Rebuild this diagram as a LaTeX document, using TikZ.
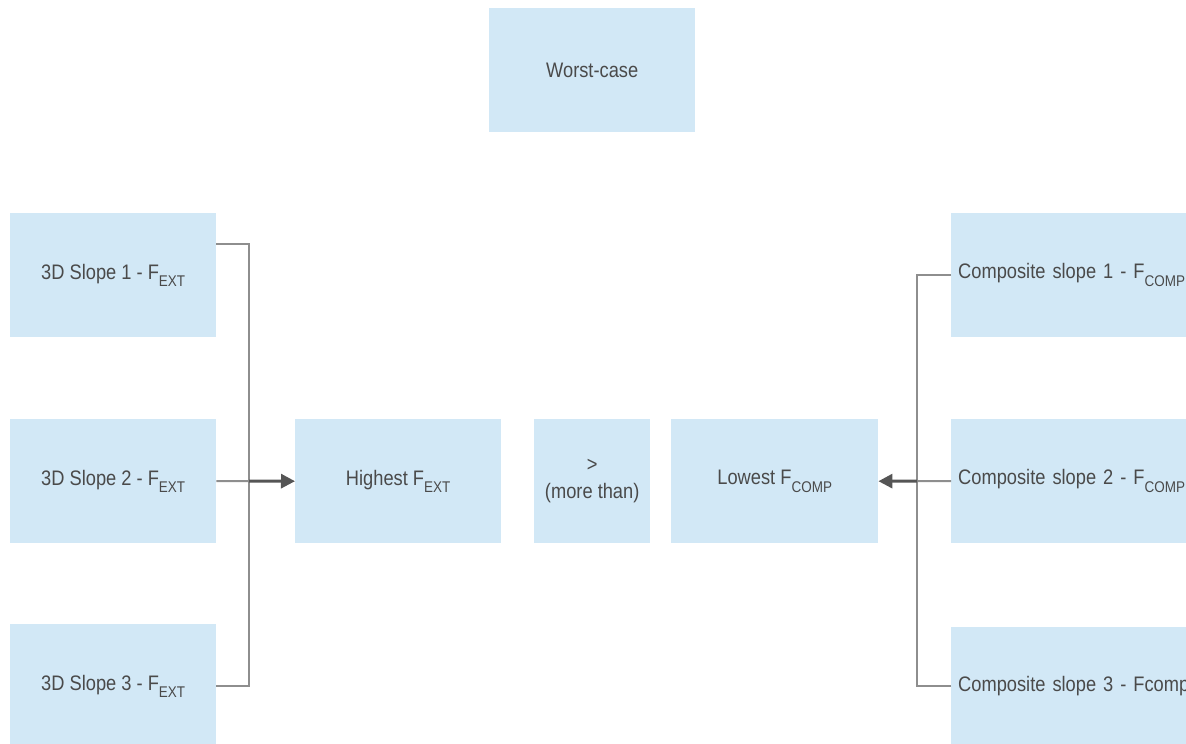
\documentclass[tikz,border=0pt]{standalone}
\usepackage{fontspec}
\setmainfont[FakeStretch=0.87]{Liberation Sans}
\usetikzlibrary{arrows.meta}
\definecolor{boxfill}{HTML}{D2E8F6}
\definecolor{txt}{HTML}{4A4A4A}
\definecolor{lin}{HTML}{8E8E8E}
\definecolor{arr}{HTML}{555555}
\newcommand{\lowsub}[1]{\raisebox{-0.36em}{\fontsize{15.5}{16}\selectfont #1}}
\tikzset{
  box/.style={fill=boxfill, draw=none, inner sep=0pt, minimum width=206pt, minimum height=124pt,
    anchor=north west, text=txt, font=\fontsize{21}{27}\selectfont, align=center},
  compbox/.style={box, minimum width=280pt, text width=266pt, align=left, inner xsep=7pt},
  conn/.style={draw=lin, line width=2pt},
  arrowline/.style={draw=arr, line width=3pt, -{Triangle[length=14pt,width=14pt]}}
}
\begin{document}
\begin{tikzpicture}[x=1pt,y=-1pt]
\useasboundingbox (0,0) rectangle (1186,744);
\clip (0,0) rectangle (1186,744);
\node[box] (worst) at (489,8) {Worst-case};
\node[box] (s1) at (10,213) {3D Slope 1 - F\lowsub{EXT}};
\node[box] (s2) at (10,419) {3D Slope 2 - F\lowsub{EXT}};
\node[box] (s3) at (10,624) {3D Slope 3 - F\lowsub{EXT}};
\node[box] (high) at (295,419) {Highest F\lowsub{EXT}};
\node[box, minimum width=116pt] (more) at (534,419) {>\\(more than)};
\node[box, minimum width=207pt] (low) at (671,419) {Lowest F\lowsub{COMP}};
\node[compbox] (c1) at (951,213) {Composite slope 1 - F\lowsub{COMP}};
\node[compbox] (c2) at (951,419) {Composite slope 2 - F\lowsub{COMP}};
\node[compbox, minimum height=118pt] (c3) at (951,627) {Composite slope 3 - Fcomp};
\coordinate (jl) at (249,481);
\coordinate (jr) at (917,481);
\draw[conn] ([yshift=31pt]s1.east) -| (jl);
\draw[conn] (s3.east) -| (jl);
\draw[conn] (s2.east) -- (jl);
\draw[arrowline] (jl) -- (high.west);
\draw[conn] (c1.west) -| (jr);
\draw[conn] (c3.west) -| (jr);
\draw[conn] (c2.west) -- (jr);
\draw[arrowline] (jr) -- (low.east);
\end{tikzpicture}
\end{document}
